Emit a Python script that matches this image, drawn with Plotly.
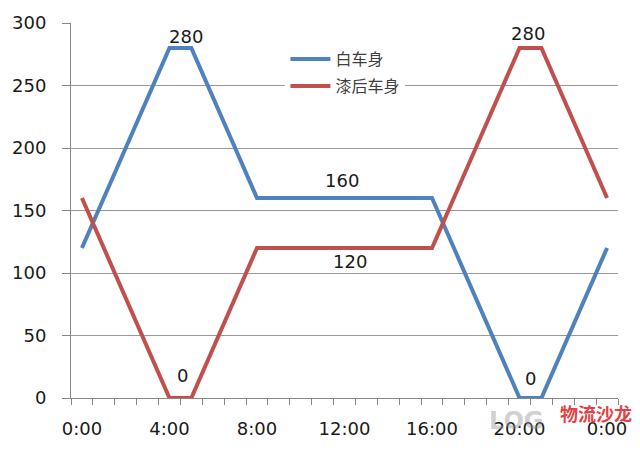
import plotly.graph_objects as go

hours = list(range(25))
tick_vals = [0, 4, 8, 12, 16, 20, 24]
tick_text = ["0:00", "4:00", "8:00", "12:00", "16:00", "20:00", "0:00"]

white_body = [120, 160, 200, 240, 280, 280, 240, 200, 160, 160, 160, 160, 160,
              160, 160, 160, 160, 120, 80, 40, 0, 0, 40, 80, 120]
painted_body = [160, 120, 80, 40, 0, 0, 40, 80, 120, 120, 120, 120, 120,
                120, 120, 120, 120, 160, 200, 240, 280, 280, 240, 200, 160]

# data labels: (x position in hours, series value, pixel shift)
label_x = [4.75, 4.6, 11.9, 12.25, 20.4, 20.5]
label_v = [280, 0, 160, 120, 280, 0]
label_shift = [12, 23, 18, -13, 15, 20]

fig = go.Figure()
fig.add_trace(go.Scatter(x=hours, y=white_body, mode="lines", name="白车身",
                         line=dict(color="#4F81BD", width=4), legend="legend"))
fig.add_trace(go.Scatter(x=hours, y=painted_body, mode="lines", name="漆后车身",
                         line=dict(color="#C0504D", width=4), legend="legend2"))

for x, v, s in zip(label_x, label_v, label_shift):
    fig.add_annotation(x=x, y=v, text=str(v), showarrow=False, yshift=s,
                       font=dict(family="DejaVu Sans", size=18, color="#1a1a1a"))

# watermark
fig.add_annotation(xref="paper", yref="paper", x=0.76, y=-0.06, xanchor="left", yanchor="middle",
                   text="<b>LOG</b>", showarrow=False,
                   font=dict(family="DejaVu Sans", size=24, color="rgba(150,150,150,0.45)"))
fig.add_annotation(xref="paper", yref="paper", x=1.03, y=-0.04, xanchor="right", yanchor="middle",
                   text="<b>物流沙龙</b>", showarrow=False,
                   font=dict(family="Noto Sans CJK SC", size=18, color="rgba(224,38,43,0.9)"))

leg_common = dict(xanchor="left", yanchor="middle", bgcolor="white",
                  font=dict(family="Noto Sans CJK SC", size=16, color="#404040"),
                  itemwidth=40, borderwidth=0)
fig.update_layout(
    width=640, height=451,
    margin=dict(l=65, r=22, t=20, b=53),
    paper_bgcolor="white", plot_bgcolor="white",
    showlegend=True,
    legend=dict(x=0.392, y=0.904, **leg_common),
    legend2=dict(x=0.392, y=0.832, **leg_common),
    xaxis=dict(range=[-0.5, 24.5], tickvals=tick_vals, ticktext=tick_text,
               ticks="", showgrid=False, showline=True, linecolor="#868686", linewidth=1,
               ticklabelstandoff=14,
               tickfont=dict(family="DejaVu Sans", size=18, color="#1a1a1a"),
               minor=dict(ticks="outside", tick0=-0.5, dtick=1, ticklen=6,
                          tickcolor="#868686", showgrid=False),
               zeroline=False),
    yaxis=dict(range=[0, 300], dtick=50, ticks="outside", ticklen=8, tickcolor="#868686",
               showgrid=True, gridcolor="#999999", gridwidth=1,
               showline=True, linecolor="#868686", linewidth=1, zeroline=False,
               ticklabelstandoff=12,
               tickfont=dict(family="DejaVu Sans", size=18, color="#1a1a1a")),
)

fig.write_html("out.html", config={"displayModeBar": False},
               post_script="document.body.style.margin='0';")
